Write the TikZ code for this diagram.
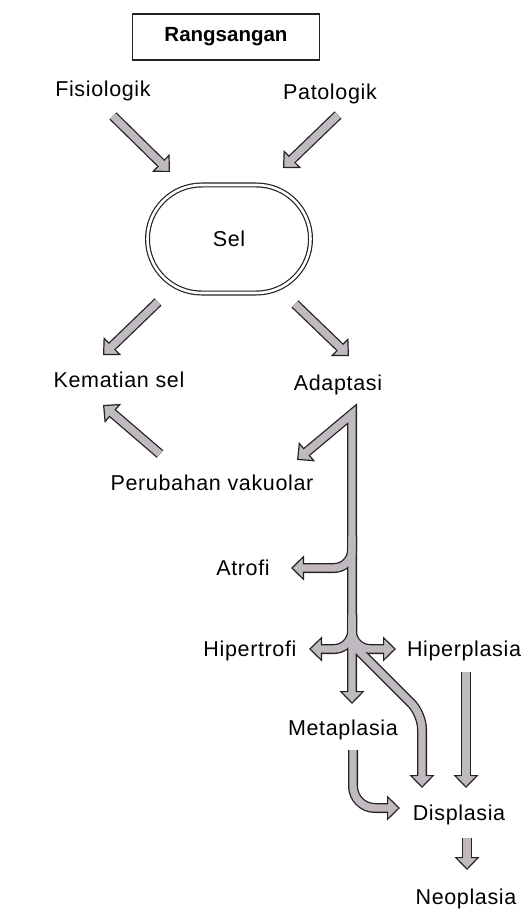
\documentclass[tikz,border=0pt]{standalone}
\usepackage{fontspec}
\setmainfont{Liberation Sans}
\newfontfamily\lab[LetterSpace=3]{Liberation Sans}
\usetikzlibrary{arrows.meta,shapes.misc,calc}
\definecolor{arrowfill}{RGB}{192,186,192}
\definecolor{inkline}{RGB}{35,35,35}

\begin{document}
\begin{tikzpicture}[x=1pt, y=-1pt,
  lbl/.style={font=\lab\fontsize{21.5}{26}\selectfont, inner sep=0pt,
              text height=15.4pt, text depth=0pt},
  Fat/.tip={Triangle[length=13pt, width=25pt, fill=arrowfill, line width=1.2pt]},
  fatout/.style={draw=inkline, line width=10pt, -{Fat}},
  fatin/.style={draw=arrowfill, line width=7.4pt, shorten >=10pt},
  fatout2/.style={fatout, {Fat}-{Fat}, line join=miter},
  fatin2/.style={fatin, shorten <=10pt, line join=miter},
]
\useasboundingbox (0,0) rectangle (525,912);

%% stimulus
\node[draw=inkline, line width=1.3pt, minimum width=187pt, minimum height=46pt,
      inner sep=0pt, font=\bfseries\fontsize{20.5}{24}\selectfont]
      (rang) at (226,37) {Rangsangan};
\node[lbl] (fisio) at (103,89) {Fisiologik};
\node[lbl] (pato) at (330,92) {Patologik};

%% cell
\node[rounded rectangle, draw=inkline, double=white, double distance=2.6pt,
      line width=1.2pt, minimum width=163pt, minimum height=108pt, inner sep=0pt,
      lbl] (sel) at (229,239) {Sel};

%% outcomes
\node[lbl] (kem) at (119,380) {Kematian sel};
\node[lbl] (adap) at (338,383) {Adaptasi};
\node[lbl] (peru) at (212,483) {Perubahan vakuolar};
\node[lbl] (atrofi) at (243,568) {Atrofi};
\node[lbl] (hipert) at (250,649) {Hipertrofi};
\node[lbl] (hiperp) at (464,649) {Hiperplasia};
\node[lbl] (meta) at (343,728) {Metaplasia};
\node[lbl] (disp) at (459,813) {Displasia};
\node[lbl] (neo) at (466,897) {Neoplasia};

\coordinate (apex) at ([shift={(14,31)}]adap.center);
\coordinate (fork) at (apex |- hipert);

%% block arrows: dark pass first, then the light core
\foreach \p in {out,in} {
  \draw[fat\p] ([shift={(10,27)}]fisio.center) -- ([shift={(-59,-67)}]sel.center);
  \draw[fat\p] ([shift={(8,23)}]pato.center) -- ([shift={(54,-71)}]sel.center);
  \draw[fat\p] ([shift={(-71,63)}]sel.center) -- ([shift={(-16,-25)}]kem.center);
  \draw[fat\p] ([shift={(66,65)}]sel.center) -- ([shift={(11,-27)}]adap.center);
  \draw[fat\p] ([shift={(-52,-29)}]peru.center) -- ([shift={(-16,25)}]kem.center);
  % trunk from Adaptasi
  \draw[fat\p2] ([shift={(85,-23)}]peru.center) -- (apex)
    -- ([shift={(9,-24)}]meta.center);
  \draw[fat\p, rounded corners=18pt] ($(apex |- atrofi)+(0,-32)$)
    |- ([xshift=48pt]atrofi.center);
  \draw[fat\p, rounded corners=18pt] ($(fork)+(0,-34)$) |- ([xshift=59pt]hipert.center);
  \draw[fat\p, rounded corners=18pt] ($(fork)+(0,-34)$) |- ([xshift=-68pt]hiperp.center);
  \draw[fat\p, rounded corners=15pt] ($(fork)+(2,-3)$)
    -- ([shift={(-37,-99)}]disp.center) -- ([shift={(-37,-25)}]disp.center);
  % towards Displasia and Neoplasia
  \draw[fat\p] ([shift={(2,23)}]hiperp.center) -- ([shift={(7,-25)}]disp.center);
  \draw[fat\p, rounded corners=22pt] ([shift={(10,22)}]meta.center)
    |- ([shift={(-59,-5)}]disp.center);
  \draw[fat\p] ([shift={(8,25)}]disp.center) -- ([shift={(1,-27)}]neo.center);
}

\end{tikzpicture}
\end{document}
